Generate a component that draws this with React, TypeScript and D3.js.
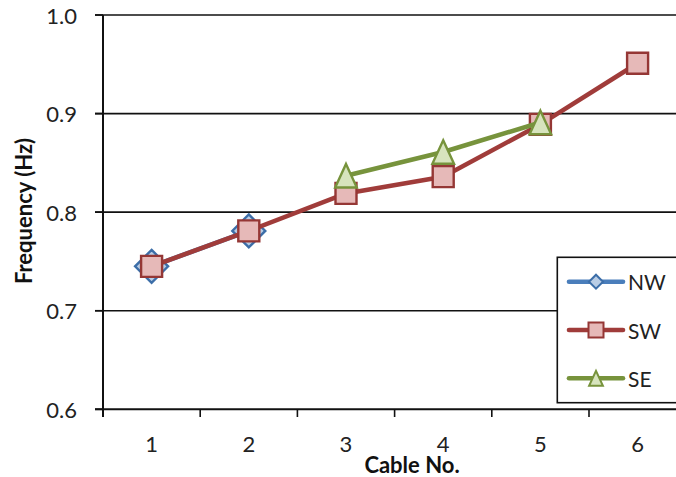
import React from "react";
import * as d3 from "d3";

const categories = ["1", "2", "3", "4", "5", "6"];
const nwValues: (number | null)[] = [0.745, 0.781, null, null, null, null];
const swValues: (number | null)[] = [0.745, 0.781, 0.819, 0.836, 0.889, 0.951];
const seValues: (number | null)[] = [null, null, 0.837, 0.861, 0.891, null];
const yTicks = [0.6, 0.7, 0.8, 0.9, 1.0];
const seriesNames = ["NW", "SW", "SE"];

const W = 676;
const H = 477;
const FONT = "Lato, 'Open Sans', sans-serif";

const series = [
  { name: seriesNames[0], values: nwValues, line: "#4A7EBB", stroke: "#3C6EA8", fill: "#B9CDE5", marker: "diamond" },
  { name: seriesNames[1], values: swValues, line: "#A03C3A", stroke: "#953735", fill: "#E6B9B8", marker: "square" },
  { name: seriesNames[2], values: seValues, line: "#77933C", stroke: "#77933C", fill: "#D7E4BD", marker: "triangle" },
];

function markerPath(type: string, s: number) {
  if (type === "diamond") {
    const h = s / 2;
    return `M0,${-h}L${h},0L0,${h}L${-h},0Z`;
  }
  if (type === "square") {
    const h = s / 2;
    return `M${-h},${-h}H${h}V${h}H${-h}Z`;
  }
  // triangle, centered in bbox
  const h = s / 2;
  const w = s * 0.46;
  return `M0,${-h}L${w},${h}L${-w},${h}Z`;
}

const markerSize: Record<string, number> = { diamond: 33, square: 21, triangle: 23.5 };
const legendSize: Record<string, number> = { diamond: 14, square: 15, triangle: 15 };

export default function App() {
  const left = 103;
  const x = d3.scaleBand<string>().domain(categories).range([left, left + 6 * 97.2]);
  const y = d3.scaleLinear().domain([0.6, 1.0]).range([409.3, 15]);
  const cx = (c: string) => (x(c) as number) + x.bandwidth() / 2;

  const lineGen = d3
    .line<number | null>()
    .defined((d) => d != null)
    .x((_, i) => cx(categories[i]))
    .y((d) => y(d as number));

  const xBoundaries = categories.map((c) => x(c) as number);
  const axisY = y(0.6);

  const legendX = 557.3;
  const legendTop = 257.3;
  const legendBottom = 402.7;
  const legendRows = [281.7, 330, 378.3];

  return (
    <svg width={W} height={H} style={{ position: "absolute", left: 0, top: 0, background: "#fff" }}>
      <rect x={0} y={0} width={W} height={H} fill="#fff" />
      {/* gridlines */}
      {yTicks.filter((t) => t > 0.6).map((t) => (
        <line key={t} x1={95} x2={W} y1={y(t)} y2={y(t)} stroke="#111" strokeWidth={1.6} />
      ))}
      {/* y axis */}
      <line x1={left} x2={left} y1={y(1.0)} y2={417} stroke="#111" strokeWidth={2} />
      {yTicks.map((t) => (
        <g key={"yt" + t}>
          <line x1={95} x2={left} y1={y(t)} y2={y(t)} stroke="#111" strokeWidth={1.6} />
          <text x={77} y={y(t)} textAnchor="end" dominantBaseline="central" fontFamily={FONT} fontSize={22} fill="#222">
            {t.toFixed(1)}
          </text>
        </g>
      ))}
      {/* x axis */}
      <line x1={95} x2={W} y1={axisY} y2={axisY} stroke="#111" strokeWidth={2} />
      {xBoundaries.map((b, i) => (
        <line key={"xt" + i} x1={b} x2={b} y1={axisY} y2={417} stroke="#111" strokeWidth={1.6} />
      ))}
      {categories.map((c) => (
        <text key={"xl" + c} x={cx(c)} y={452} textAnchor="middle" fontFamily={FONT} fontSize={22} fill="#222">
          {c}
        </text>
      ))}
      {/* axis titles */}
      <text x={412} y={472.7} textAnchor="middle" fontFamily={FONT} fontWeight="bold" fontSize={22} fill="#111">
        Cable No.
      </text>
      <text
        transform={`translate(31.7,211) rotate(-90)`}
        textAnchor="middle"
        fontFamily={FONT}
        fontWeight="bold"
        fontSize={22}
        fill="#111"
      >
        Frequency (Hz)
      </text>
      {/* series lines and markers */}
      {series.map((s) => (
        <g key={s.name}>
          <path d={lineGen(s.values) || ""} fill="none" stroke={s.line} strokeWidth={4.6} strokeLinejoin="round" />
          {s.values.map((v, i) =>
            v == null ? null : (
              <path
                key={i}
                transform={`translate(${cx(categories[i])},${y(v)})`}
                d={markerPath(s.marker, markerSize[s.marker])}
                fill={s.fill}
                stroke={s.stroke}
                strokeWidth={2.4}
                strokeLinejoin="miter"
              />
            )
          )}
        </g>
      ))}
      {/* legend */}
      <rect x={legendX} y={legendTop} width={W - legendX + 10} height={legendBottom - legendTop} fill="#fff" stroke="#111" strokeWidth={1.6} />
      {series.map((s, i) => (
        <g key={"lg" + s.name}>
          <line x1={569} x2={623} y1={legendRows[i]} y2={legendRows[i]} stroke={s.line} strokeWidth={4.6} strokeLinecap="round" />
          <path
            transform={`translate(596,${legendRows[i]})`}
            d={markerPath(s.marker, legendSize[s.marker])}
            fill={s.fill}
            stroke={s.stroke}
            strokeWidth={2}
          />
          <text x={628} y={legendRows[i]} dominantBaseline="central" fontFamily={FONT} fontSize={21} fill="#222">
            {s.name}
          </text>
        </g>
      ))}
    </svg>
  );
}
